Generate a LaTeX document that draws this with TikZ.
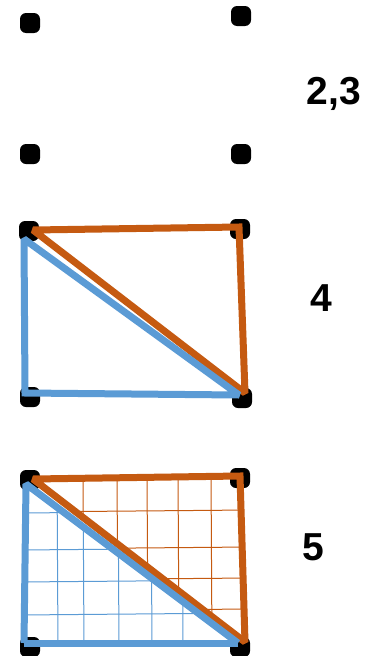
\documentclass[tikz,border=0pt]{standalone}
\usepackage{fontspec}
\setmainfont{Liberation Sans}
\definecolor{myorange}{HTML}{C55A11}
\definecolor{myblue}{HTML}{5B9BD5}
\tikzset{
  dot/.style={fill=black, rectangle, rounded corners=6pt, minimum size=20pt, inner sep=0pt},
  lbl/.style={font=\fontsize{39}{39}\selectfont\bfseries, inner sep=0pt},
  oline/.style={draw=myorange, line width=7pt, line join=miter, miter limit=2},
  bline/.style={draw=myblue, line width=7pt, line join=miter, miter limit=2},
  ogrid/.style={draw=myorange, line width=1pt},
  bgrid/.style={draw=myblue, line width=1pt},
}
\begin{document}
\begin{tikzpicture}[x=1pt,y=-1pt]
\useasboundingbox[fill=white] (0,0) rectangle (377,656);
% panel 1
\node[dot] (a1) at (30,23) {};
\node[dot] (b1) at (241,16) {};
\node[dot] (c1) at (30,154) {};
\node[dot] (d1) at (241,154) {};
\node[lbl] (l1) at (334,94) {2,3};
% panel 2
\node[dot] (a2) at (29,231) {};
\node[dot] (b2) at (240,229) {};
\node[dot] (c2) at (30,397) {};
\node[dot] (d2) at (242,398) {};
\coordinate (o2a) at (33,230);
\coordinate (o2b) at (239,227);
\coordinate (o2c) at (245,393);
\coordinate (b2a) at (24,239);
\coordinate (b2b) at (25,393);
\coordinate (b2c) at (239,395);
\draw[oline] (o2a) -- (o2b) -- (o2c) -- cycle;
\draw[bline] (b2a) -- (b2b) -- (b2c) -- cycle;
\node[lbl] (l2) at (321,298) {4};
% panel 3
\coordinate (o3a) at (33,479);
\coordinate (o3b) at (240,476);
\coordinate (o3c) at (245,642);
\coordinate (b3a) at (26,484);
\coordinate (b3b) at (24,643);
\coordinate (b3c) at (238,643);
\begin{scope}
\clip (o3a) -- (o3b) -- (o3c) -- cycle;
\foreach \x in {83,117,147,178,211} \draw[ogrid] (\x,470) -- (\x+1,650);
\foreach \y in {511,548,579,610} \draw[ogrid] (20,\y+1) -- (250,\y-1);
\end{scope}
\begin{scope}
\clip (b3a) -- (b3b) -- (b3c) -- cycle;
\foreach \x in {57,83,118,151,182} \draw[bgrid] (\x,470) -- (\x+1,650);
\foreach \y in {512,549,581,614} \draw[bgrid] (20,\y+1) -- (250,\y-1);
\end{scope}
\node[dot] (a3) at (30,480) {};
\node[dot] (b3) at (240,478) {};
\node[dot] (c3) at (30,647) {};
\node[dot] (d3) at (240,647) {};
\draw[oline] (o3a) -- (o3b) -- (o3c) -- cycle;
\draw[bline] (b3b) -- (b3c);
\draw[bline] (b3b) -- (b3a) -- (b3c);
\node[lbl] (l3) at (313,547) {5};
\end{tikzpicture}
\end{document}
